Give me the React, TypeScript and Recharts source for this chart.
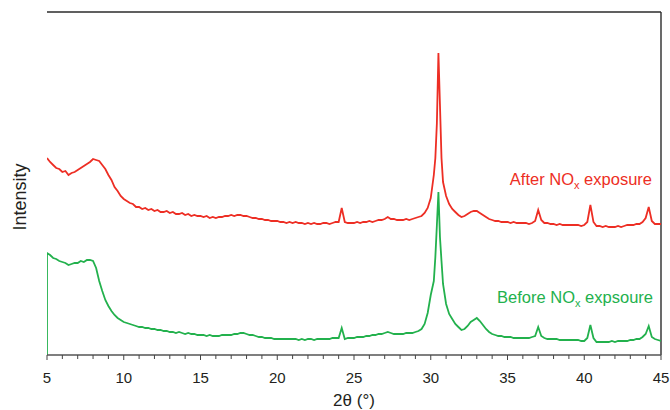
import React from "react";
import { LineChart, Line, XAxis, YAxis, ReferenceLine, Customized } from "recharts";

// 2θ positions (degrees)
const theta = [
  5.0, 5.0, 5.2, 5.4, 5.6, 5.8, 6.0, 6.2, 6.4, 6.6, 6.8,
  7.0, 7.2, 7.4, 7.6, 7.8, 8.0, 8.2, 8.4, 8.6, 8.8,
  9.0, 9.2, 9.4, 9.6, 9.8, 10.0, 10.2, 10.4, 10.6, 10.8,
  11.0, 11.2, 11.4, 11.6, 11.8, 12.0, 12.2, 12.4, 12.6, 12.8,
  13.0, 13.2, 13.4, 13.6, 13.8, 14.0, 14.2, 14.4, 14.6, 14.8,
  15.0, 15.2, 15.4, 15.6, 15.8, 16.0, 16.2, 16.4, 16.6, 16.8,
  17.0, 17.2, 17.4, 17.6, 17.8, 18.0, 18.2, 18.4, 18.6, 18.8,
  19.0, 19.2, 19.4, 19.6, 19.8, 20.0, 20.2, 20.4, 20.6, 20.8,
  21.0, 21.2, 21.4, 21.6, 21.8, 22.0, 22.2, 22.4, 22.6, 22.8,
  23.0, 23.2, 23.4, 23.6, 23.8, 24.0, 24.2, 24.4, 24.6, 24.8,
  25.0, 25.2, 25.4, 25.6, 25.8, 26.0, 26.2, 26.4, 26.6, 26.8,
  27.0, 27.2, 27.4, 27.6, 27.8, 28.0, 28.2, 28.4, 28.6, 28.8,
  29.0, 29.2, 29.4, 29.6, 29.8, 30.0, 30.2, 30.3, 30.4, 30.5, 30.6, 30.7, 30.8,
  31.0, 31.2, 31.4, 31.6, 31.8, 32.0, 32.2, 32.4, 32.6, 32.8,
  33.0, 33.2, 33.4, 33.6, 33.8, 34.0, 34.2, 34.4, 34.6, 34.8,
  35.0, 35.2, 35.4, 35.6, 35.8, 36.0, 36.2, 36.4, 36.6, 36.8,
  37.0, 37.2, 37.4, 37.6, 37.8, 38.0, 38.2, 38.4, 38.6, 38.8,
  39.0, 39.2, 39.4, 39.6, 39.8, 40.0, 40.2, 40.4, 40.6, 40.8,
  41.0, 41.2, 41.4, 41.6, 41.8, 42.0, 42.2, 42.4, 42.6, 42.8,
  43.0, 43.2, 43.4, 43.6, 43.8, 44.0, 44.2, 44.4, 44.6, 44.8,
  45.0,
];

// After NOx exposure (offset intensity, a.u.)
const afterNOx = [
  197, 197, 193, 190, 187, 186, 183, 184, 180, 182, 183,
  185, 187, 189, 191, 193, 196, 195, 194, 190, 186,
  180, 175, 168, 164, 159, 156, 154, 152, 151, 148,
  148, 146, 147, 145, 146, 144, 145, 143, 143, 144,
  142, 143, 141, 141, 142, 140, 141, 139, 140, 139,
  139, 138, 139, 137, 138, 137, 138, 138, 139, 139,
  140, 139, 140, 140, 139, 139, 138, 137, 137, 136,
  136, 135, 135, 134, 134, 134, 133, 133, 132, 133,
  132, 133, 132, 132, 131, 132, 131, 132, 131, 131,
  132, 132, 131, 132, 133, 133, 147, 133, 132, 132,
  132, 133, 132, 133, 133, 134, 133, 134, 135, 135,
  136, 138, 136, 136, 135, 135, 135, 136, 135, 136,
  137, 138, 139, 142, 147, 157, 180, 197, 232, 302, 250, 197, 173,
  159, 151, 146, 143, 140, 138, 139, 141, 143, 144,
  144, 142, 140, 138, 136, 135, 134, 134, 133, 133,
  133, 132, 133, 132, 132, 132, 132, 131, 132, 134,
  145, 135, 132, 132, 131, 131, 130, 131, 130, 130,
  130, 130, 130, 130, 129, 130, 133, 150, 133, 129,
  129, 128, 129, 128, 128, 128, 129, 128, 129, 130,
  130, 130, 131, 131, 133, 137, 148, 134, 131, 131,
  131,
];

// Before NOx exposure (intensity, a.u.)
const beforeNOx = [
  0, 102, 100, 97, 96, 94, 93, 92, 90, 91, 92,
  92, 94, 93, 95, 95, 94, 87, 74, 64, 55,
  49, 44, 40, 37, 35, 33, 32, 31, 30, 29,
  28, 28, 27, 27, 26, 26, 25, 25, 24, 24,
  23, 23, 22, 23, 22, 21, 22, 21, 21, 20,
  20, 20, 19, 20, 19, 19, 19, 20, 20, 20,
  20, 21, 21, 22, 22, 21, 20, 20, 19, 18,
  18, 17, 17, 17, 16, 16, 16, 16, 16, 16,
  16, 16, 15, 16, 15, 16, 16, 15, 16, 16,
  16, 16, 16, 17, 17, 17, 27, 16, 17, 17,
  17, 18, 18, 18, 19, 19, 20, 20, 21, 21,
  22, 23, 22, 21, 21, 21, 21, 22, 22, 22,
  23, 24, 26, 31, 42, 60, 74, 98, 130, 163, 118, 94, 71,
  51, 41, 36, 31, 28, 25, 26, 29, 33, 35,
  37, 34, 30, 26, 23, 21, 20, 19, 19, 18,
  18, 18, 17, 17, 17, 17, 17, 17, 18, 19,
  28, 19, 17, 16, 16, 16, 16, 15, 15, 15,
  15, 15, 15, 15, 14, 14, 17, 30, 17, 13,
  13, 13, 13, 13, 14, 13, 14, 14, 14, 14,
  15, 15, 16, 16, 18, 21, 29, 18, 16, 15,
  14,
];

const xTicks = [
  5, 6, 7, 8, 9, 10, 11, 12, 13, 14, 15, 16, 17, 18, 19, 20, 21, 22, 23, 24, 25,
  26, 27, 28, 29, 30, 31, 32, 33, 34, 35, 36, 37, 38, 39, 40, 41, 42, 43, 44, 45,
];
const majorTicks = [5, 10, 15, 20, 25, 30, 35, 40, 45];

const data = theta.map((t, i) => ({ t, after: afterNOx[i], before: beforeNOx[i] }));

const FONT = "'Liberation Sans', Arial, Helvetica, sans-serif";
const RED = "#ed2e24";
const GREEN = "#23b14d";
const AXIS = "#2b2b2b";

const XTick = (props: any) => {
  const { x, y, payload } = props;
  const v = payload.value;
  const major = majorTicks.includes(v);
  return (
    <g>
      <line x1={x} x2={x} y1={y} y2={y + (major ? 5 : 4)} stroke="#444" strokeWidth={1} />
      {major && (
        <text x={x} y={y + 28} textAnchor="middle" fontSize={15} fill="#231f20" fontFamily={FONT}>
          {v}
        </text>
      )}
    </g>
  );
};

const Texts = () => (
  <g fontFamily={FONT}>
    <text x={26} y={197} transform="rotate(-90 26 197)" textAnchor="middle" fontSize={18} fill="#231f20">
      Intensity
    </text>
    <text x={354} y={406} textAnchor="middle" fontSize={17} fill="#231f20">
      2θ (°)
    </text>
    <text x={652} y={185} textAnchor="end" fontSize={16.5} fill={RED}>
      After NO<tspan fontSize={11} dy={4}>x</tspan>
      <tspan dy={-4}> exposure</tspan>
    </text>
    <text x={653} y={303} textAnchor="end" fontSize={16.5} fill={GREEN}>
      Before NO<tspan fontSize={11} dy={4}>x</tspan>
      <tspan dy={-4}> expsoure</tspan>
    </text>
  </g>
);

export default function App() {
  return (
    <div style={{ position: "absolute", left: 0, top: 0, width: 670, height: 410, background: "#fff" }}>
      <LineChart width={670} height={410} data={data} margin={{ top: 12, right: 9, bottom: 15, left: 47 }}>
        <XAxis
          dataKey="t"
          type="number"
          domain={[5, 45]}
          ticks={xTicks}
          interval={0}
          tick={<XTick />}
          tickLine={false}
          tickSize={0}
          tickMargin={0}
          height={40}
          allowDataOverflow
          axisLine={{ stroke: "#555", strokeWidth: 1.4 }}
        />
        <YAxis
          type="number"
          domain={[0, 343]}
          width={0}
          tick={false}
          tickLine={false}
          allowDataOverflow
          axisLine={{ stroke: "#231f20", strokeWidth: 1.4 }}
        />
        <ReferenceLine y={343} stroke={AXIS} strokeWidth={1.4} ifOverflow="visible" />
        <ReferenceLine x={45} stroke={AXIS} strokeWidth={1.4} ifOverflow="visible" />
        <Line type="linear" dataKey="after" stroke={RED} strokeWidth={1.8} dot={false} isAnimationActive={false} />
        <Line type="linear" dataKey="before" stroke={GREEN} strokeWidth={1.8} dot={false} isAnimationActive={false} />
        <Customized component={Texts} />
      </LineChart>
    </div>
  );
}
